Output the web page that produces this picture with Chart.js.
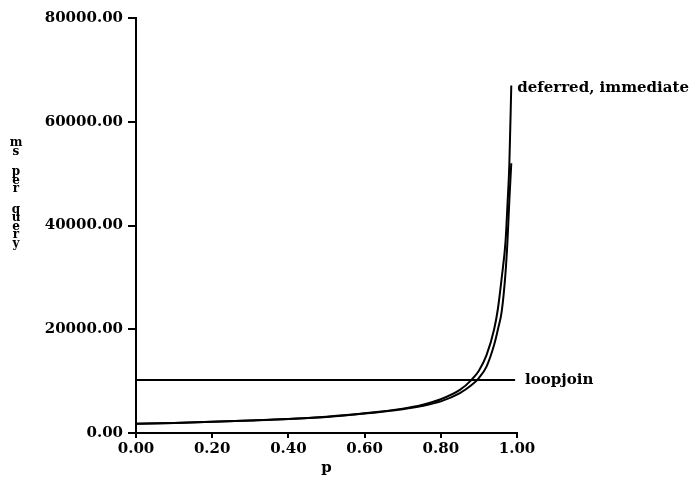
<!DOCTYPE html>
<html>
<head>
<meta charset="utf-8">
<script src="https://cdn.jsdelivr.net/npm/chart.js@4.4.1/dist/chart.umd.min.js"></script>
<style>
  html, body { margin: 0; padding: 0; background: #fff; }
  #wrap { width: 691px; height: 487px; }
</style>
</head>
<body>
<div id="wrap"><canvas id="chart"></canvas></div>
<script>
// values (p vs ms per query)
const deferredP = [0, 0.1, 0.2, 0.3, 0.4, 0.5, 0.6, 0.7, 0.75, 0.8, 0.85, 0.88, 0.9, 0.92, 0.94, 0.95, 0.96, 0.97, 0.975, 0.98, 0.985];
const deferredMs = [1800, 1950, 2150, 2400, 2700, 3150, 3800, 4700, 5400, 6500, 8300, 10200, 12000, 15000, 20000, 24000, 30000, 37000, 44000, 52000, 67000];

const immediateP = [0, 0.1, 0.2, 0.3, 0.4, 0.5, 0.6, 0.7, 0.75, 0.8, 0.85, 0.88, 0.9, 0.92, 0.94, 0.95, 0.96, 0.97, 0.975, 0.98, 0.985];
const immediateMs = [1800, 1950, 2150, 2400, 2700, 3100, 3750, 4600, 5200, 6100, 7700, 9200, 10600, 12800, 17000, 20000, 23500, 31000, 37000, 45000, 52000];

const loopjoinP = [0, 0.995];
const loopjoinMs = [10200, 10200];

const xTicks = [0, 0.2, 0.4, 0.6, 0.8, 1.0];
const yTicks = [0, 20000, 40000, 60000, 80000];
const yTitle = ['m', 's', '', 'p', 'e', 'r', '', 'q', 'u', 'e', 'r', 'y'];

const FONT = 'DejaVu Serif';
const pts = (xs, ys) => xs.map((x, i) => ({ x: x, y: ys[i] }));

const lineStyle = {
  borderColor: '#000',
  borderWidth: 2,
  pointRadius: 0,
  fill: false,
  cubicInterpolationMode: 'monotone'
};

// text labels beside the curves + stacked y title
const annotate = {
  id: 'annotate',
  afterDraw(chart) {
    const { ctx, scales: { x, y } } = chart;
    ctx.save();
    ctx.fillStyle = '#000';
    ctx.font = 'bold 15px "' + FONT + '"';
    ctx.textBaseline = 'middle';
    ctx.textAlign = 'left';
    ctx.fillText('deferred, immediate', x.getPixelForValue(0.985) + 6, y.getPixelForValue(66500));
    ctx.fillText('loopjoin', x.getPixelForValue(0.995) + 10, y.getPixelForValue(loopjoinMs[0]));

    ctx.font = 'bold 12px "' + FONT + '"';
    ctx.textAlign = 'center';
    let ty = 143;
    yTitle.forEach(ch => {
      if (ch) ctx.fillText(ch, 16, ty);
      ty += ch ? 8.5 : 12;
    });
    ctx.restore();
  }
};

const chart = new Chart(document.getElementById('chart'), {
  type: 'line',
  data: {
    datasets: [
      Object.assign({ label: 'deferred', data: pts(deferredP, deferredMs) }, lineStyle),
      Object.assign({ label: 'immediate', data: pts(immediateP, immediateMs) }, lineStyle),
      Object.assign({ label: 'loopjoin', data: pts(loopjoinP, loopjoinMs) }, lineStyle, { cubicInterpolationMode: 'default', tension: 0 })
    ]
  },
  options: {
    responsive: true,
    maintainAspectRatio: false,
    animation: false,
    layout: { padding: { top: 18, right: 174, left: 0, bottom: 0 } },
    plugins: { legend: { display: false }, tooltip: { enabled: false } },
    scales: {
      x: {
        type: 'linear',
        min: 0,
        max: 1,
        afterBuildTicks: s => { s.ticks = xTicks.map(v => ({ value: v })); },
        afterFit: s => { s.height = 54; },
        ticks: {
          color: '#000',
          font: { family: FONT, size: 15, weight: 'bold' },
          padding: 2,
          maxRotation: 0,
          callback: v => Number(v).toFixed(2)
        },
        grid: { display: true, drawOnChartArea: false, drawTicks: true, tickLength: 5, color: '#000', lineWidth: 2 },
        border: { color: '#000', width: 2 },
        title: {
          display: true,
          text: 'p',
          color: '#000',
          font: { family: FONT, size: 15, weight: 'bold' },
          padding: { top: 0, bottom: 10 }
        }
      },
      y: {
        min: 0,
        max: 80000,
        afterBuildTicks: s => { s.ticks = yTicks.map(v => ({ value: v })); },
        afterFit: s => { s.width = 136; },
        ticks: {
          color: '#000',
          font: { family: FONT, size: 15, weight: 'bold' },
          padding: 5,
          callback: v => Number(v).toFixed(2)
        },
        grid: { display: true, drawOnChartArea: false, drawTicks: true, tickLength: 8, color: '#000', lineWidth: 2 },
        border: { color: '#000', width: 2 }
      }
    }
  },
  plugins: [annotate]
});
</script>
</body>
</html>
